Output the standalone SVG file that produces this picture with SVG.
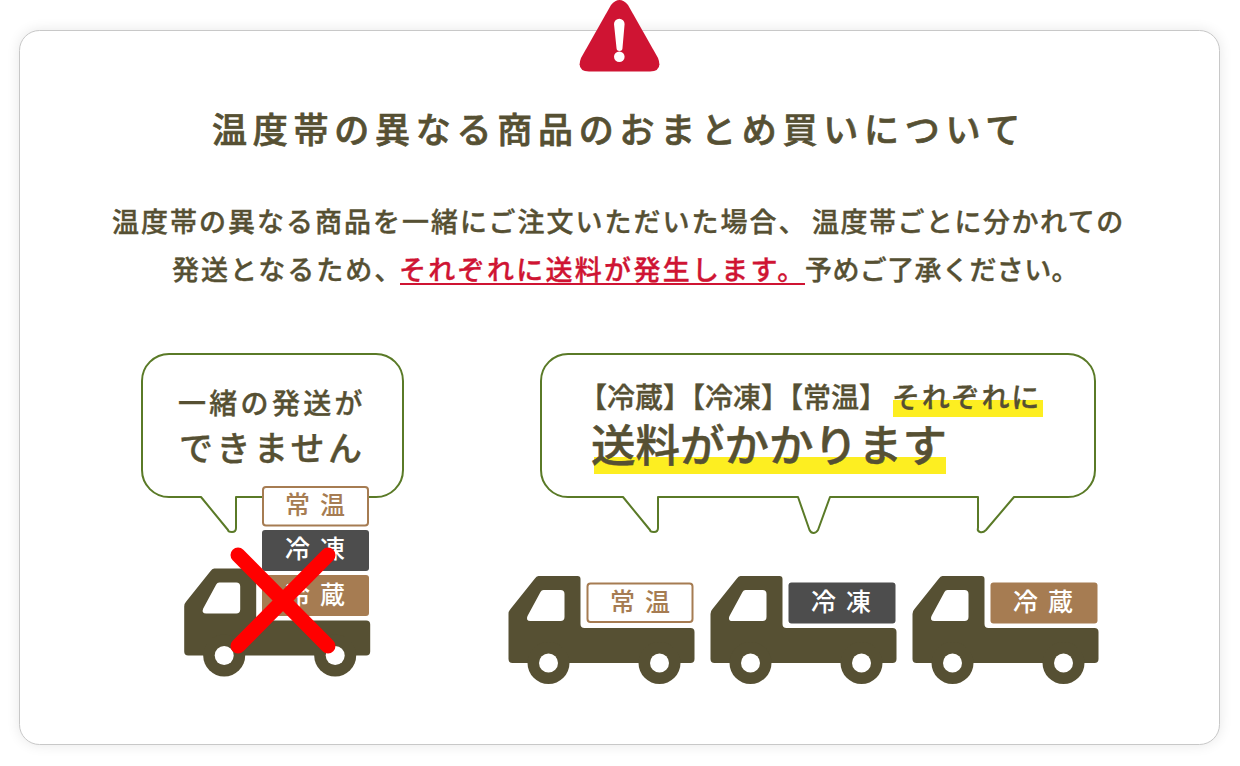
<svg xmlns="http://www.w3.org/2000/svg" width="1240" height="766" viewBox="0 0 1240 766">
<style>
text{font-family:"Noto Sans CJK JP","Noto Sans",sans-serif;font-weight:500;fill:#565033}
.t{stroke:#565033;stroke-width:.35}
.r{fill:#cf1433;stroke:#cf1433;stroke-width:.35}
.bubble{fill:#fff;stroke:#5a7a27;stroke-width:2;stroke-linejoin:round}
.lbl{font-size:25px;letter-spacing:10px}
.hl{fill:#fdee21}
.x{stroke:#f00;stroke-width:15;stroke-linecap:round}
</style>
<defs>
<filter id="sh" x="-5%" y="-5%" width="110%" height="110%"><feGaussianBlur stdDeviation="7"/></filter>
<g id="truck">
<path fill="#565033" d="M30,0H69q3,0 3,3V48q0,4 4,4H182q4,0 4,4V83q0,4 -4,4H40H4q-4,0 -4,-4V38q0,-3 2,-5L26,3q2,-3 4,-3Z"/>
<circle cx="40" cy="87" r="21" fill="#565033"/><circle cx="151" cy="87" r="21" fill="#565033"/>
<circle cx="40" cy="87" r="9.5" fill="#fff"/><circle cx="151" cy="87" r="9.5" fill="#fff"/>
<path fill="#fff" d="M35,14H52q4,0 4,4V41q0,4 -4,4H22q-5,0 -3,-5L32,16q1,-2 3,-2Z"/>
</g>
</defs>
<rect width="1240" height="766" fill="#fff"/>
<g id="card">
<rect x="19.500" y="30.500" width="1200" height="714" rx="20" fill="#000" opacity=".1" filter="url(#sh)"/>
<rect x="19.500" y="30.500" width="1200" height="714" rx="20" fill="#fff" stroke="#c8c8c8"/>
</g>
<g id="warning">
<path fill="#cf1433" d="M611,5Q619.500,-5 628,5L658,58Q663,71 650,71.500H589Q576,71 581,58Z"/>
<path fill="#fff" d="M614,24a5.300,5.300 0 0 1 10.600,0L622.500,48a3,3 0 0 1 -6,0Z"/>
<circle cx="619.300" cy="56.700" r="5.300" fill="#fff"/>
</g>
<g id="heading">
<text class="t" x="212" y="143" font-size="35" letter-spacing="5.750" style="stroke-width:.7">温度帯の異なる商品のおまとめ買いについて</text>
<text class="t" x="112" y="232" font-size="27" letter-spacing="2">温度帯の異なる商品を一緒にご注文いただいた場合、</text>
<text class="t" x="812" y="232" font-size="27" letter-spacing="1.500">温度帯ごとに分かれての</text>
<text class="t" x="172" y="280" font-size="27" letter-spacing="2">発送となるため、</text>
<text class="r" x="399" y="280" font-size="27" letter-spacing="2.300">それぞれに送料が発生します。</text>
<text class="t" x="805" y="280" font-size="27" letter-spacing=".4">予めご了承ください。</text>
<rect x="400" y="283" width="405" height="2" fill="#cf1433"/>
</g>
<g id="bubble-left">
<path class="bubble" d="M169,354H376a27,27 0 0 1 27,27V470a27,27 0 0 1 -27,27H236V528q0,4 -4,4t-4,-2L201,497H169a27,27 0 0 1 -27,-27V381a27,27 0 0 1 27,-27Z"/>
<text class="t" x="178" y="414" font-size="28" letter-spacing="3.300">一緒の発送が</text>
<text class="t" x="179" y="461" font-size="34" letter-spacing="3.500">できません</text>
</g>
<g id="bubble-right">
<path class="bubble" d="M568,354H1068a27,27 0 0 1 27,27V470a27,27 0 0 1 -27,27H1014L986,530q-3,3 -6,2t-2,-4V497H830L818,530q-2,3 -4.500,3t-4,-3L798,497H658V528q0,4 -4,4t-4,-2L623,497H568a27,27 0 0 1 -27,-27V381a27,27 0 0 1 27,-27Z"/>
<rect class="hl" x="893" y="400" width="150" height="17"/>
<rect class="hl" x="594" y="457" width="352" height="17"/>
<text class="t" x="579" y="408" font-size="28">【冷蔵】【冷凍】【常温】</text>
<text class="t" x="892" y="408" font-size="28" letter-spacing="1.800">それぞれに</text>
<text class="t" x="591" y="462" font-size="44.500" style="stroke-width:.5">送料がかかります</text>
</g>
<g id="truck-left">
<rect x="263" y="487" width="105" height="38.500" rx="3" fill="#fff" stroke="#a67c52" stroke-width="2"/>
<text class="lbl" x="285" y="514" style="fill:#a67c52">常温</text>
<rect x="262" y="530" width="107" height="41" rx="3" fill="#4d4d4d"/>
<text class="lbl" x="285" y="558" style="fill:#fff">冷凍</text>
<rect x="262" y="575" width="107" height="41" rx="3" fill="#a67c52"/>
<text class="lbl" x="285" y="604" style="fill:#fff">冷蔵</text>
<use href="#truck" x="184.200" y="568.500"/>
<path class="x" d="M238,555L328,646M328,555L238,646" fill="none"/>
</g>
<g id="truck-1">
<use href="#truck" x="508.500" y="576"/>
<rect x="587.500" y="583.500" width="105" height="38.500" rx="3" fill="#fff" stroke="#a67c52" stroke-width="2"/>
<text class="lbl" x="610" y="611" style="fill:#a67c52">常温</text>
</g>
<g id="truck-2">
<use href="#truck" x="710.500" y="576"/>
<rect x="788.500" y="582.500" width="107" height="41" rx="3" fill="#4d4d4d"/>
<text class="lbl" x="811" y="611" style="fill:#fff">冷凍</text>
</g>
<g id="truck-3">
<use href="#truck" x="912.500" y="576"/>
<rect x="990.500" y="582.500" width="107" height="41" rx="3" fill="#a67c52"/>
<text class="lbl" x="1013" y="611" style="fill:#fff">冷蔵</text>
</g>
</svg>
